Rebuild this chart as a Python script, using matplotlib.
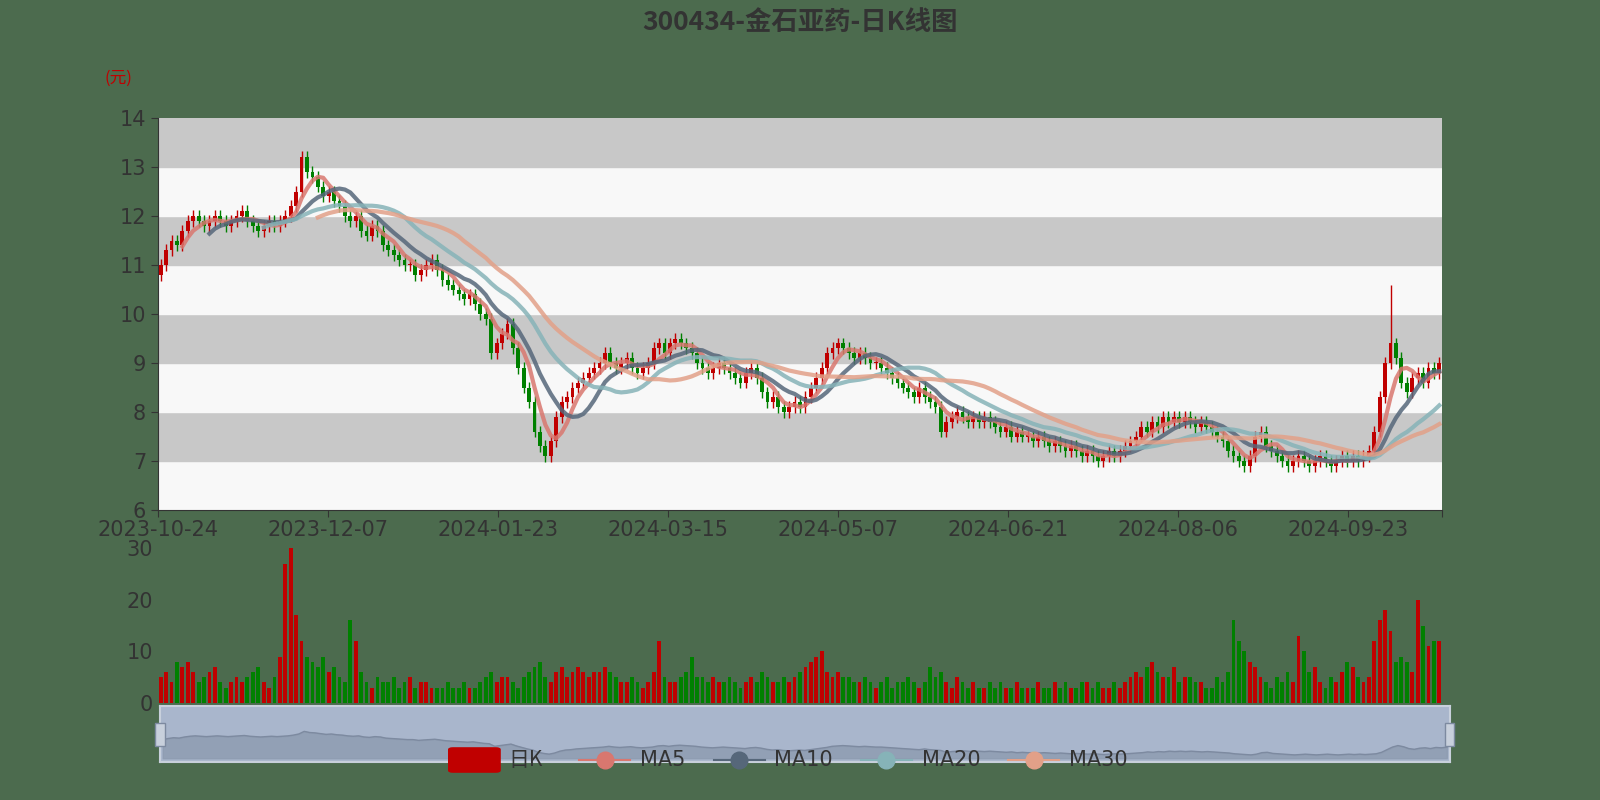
import numpy as np
import pandas as pd
import matplotlib
matplotlib.use("Agg")
import matplotlib.pyplot as plt
from matplotlib.patches import Rectangle, FancyBboxPatch
from matplotlib.lines import Line2D

plt.rcParams['font.family'] = ['Noto Sans CJK SC', 'DejaVu Sans']
NUMFONT = ['DejaVu Sans']

title = "300434-金石亚药-日K线图"
tick_labels = ["2023-10-24", "2023-12-07", "2024-01-23", "2024-03-15",
               "2024-05-07", "2024-06-21", "2024-08-06", "2024-09-23"]

closes = [
    11.0, 11.3, 11.5, 11.4, 11.7, 11.9,
    12.0, 11.9, 11.8, 11.9, 12.0, 11.9, 11.8, 11.9, 12.0, 12.1, 11.9, 11.8, 11.7, 11.8, 11.9, 11.8, 11.9, 12.0, 12.2, 12.5, 13.2, 12.9,
    12.8, 12.6, 12.4, 12.5, 12.3,
    12.2, 12.0, 11.9, 12.0, 11.7, 11.6, 11.8, 11.7, 11.4, 11.3, 11.2, 11.1, 11.0, 11.0, 10.8, 10.9,
    11.0, 11.1, 10.9, 10.7, 10.6, 10.5, 10.4, 10.3, 10.4, 10.2, 10.0, 9.9, 9.2, 9.4, 9.6, 9.8,
    9.3, 8.9, 8.5, 8.2, 7.6, 7.3, 7.1, 7.4, 7.9, 8.2, 8.3, 8.5,
    8.6, 8.7, 8.8, 8.9, 9.0, 9.2, 9.0, 8.9, 9.0, 9.1, 8.9, 8.8, 8.9, 9.0, 9.3, 9.4, 9.2, 9.4, 9.5, 9.4,
    9.3, 9.2, 9.0, 8.9, 8.8, 8.9, 9.0, 8.9, 8.8, 8.7, 8.6, 8.8, 8.9, 8.7, 8.4, 8.2, 8.3, 8.1, 8.0, 8.1, 8.2, 8.1, 8.3, 8.5, 8.7, 8.9, 9.2, 9.3, 9.4, 9.3,
    9.2, 9.1, 9.2, 9.1, 9.0, 9.0, 8.9, 8.8, 8.7, 8.6, 8.5, 8.4, 8.3, 8.5, 8.3, 8.2, 8.1, 7.6, 7.8, 7.9, 8.0, 7.9, 7.8, 7.9, 7.8, 7.9, 7.8, 7.7, 7.6, 7.7, 7.5, 7.6, 7.5,
    7.5, 7.4, 7.5, 7.4, 7.3, 7.4, 7.3, 7.2, 7.3, 7.2, 7.1, 7.2, 7.1, 7.0, 7.1, 7.2, 7.1, 7.2, 7.3, 7.4, 7.5, 7.7, 7.6, 7.8, 7.7, 7.9, 7.8, 7.9, 7.8, 7.9, 7.8, 7.7,
    7.8, 7.7, 7.6, 7.5, 7.4, 7.2, 7.1, 7.0, 6.9, 7.1, 7.5, 7.6, 7.3, 7.2, 7.1, 7.0, 6.9, 7.0, 7.1, 7.0, 6.9, 7.0, 7.1, 7.0, 6.9, 7.0, 7.1, 7.0, 7.1, 7.0, 7.1, 7.2,
    7.6, 8.3, 9.0, 9.4, 9.1, 8.6, 8.4, 8.7, 8.8, 8.6, 8.9, 8.8, 9.0,
]
volumes = [
    5, 6, 4, 8, 7, 8,
    6, 4, 5, 6, 7, 4, 3, 4, 5, 4, 5, 6, 7, 4, 3, 5, 9, 27, 30, 17, 12, 9,
    8, 7, 9, 6, 7,
    5, 4, 16, 12, 6, 4, 3, 5, 4, 4, 5, 3, 4, 5, 3, 4,
    4, 3, 3, 3, 4, 3, 3, 4, 3, 3, 4, 5, 6, 4, 5, 5,
    4, 3, 5, 6, 7, 8, 5, 4, 6, 7, 5, 6,
    7, 6, 5, 6, 6, 7, 6, 5, 4, 4, 5, 4, 3, 4, 6, 12, 5, 4, 4, 5,
    6, 9, 5, 5, 4, 5, 4, 4, 5, 4, 3, 4, 5, 4, 6, 5, 4, 4, 5, 4, 5, 6, 7, 8, 9, 10, 6, 5, 6, 5,
    5, 4, 4, 5, 4, 3, 4, 5, 3, 4, 4, 5, 4, 3, 4, 7, 5, 6, 4, 3, 5, 4, 3, 4, 3, 3, 4, 3, 4, 3, 3, 4, 3,
    3, 3, 4, 3, 3, 4, 3, 4, 3, 3, 4, 4, 3, 4, 3, 3, 4, 3, 4, 5, 6, 5, 7, 8, 6, 5, 5, 7, 4, 5, 5, 4,
    4, 3, 3, 5, 4, 6, 16, 12, 10, 8, 7, 5, 4, 3, 5, 4, 6, 4, 13, 10, 6, 7, 4, 3, 5, 4, 6, 8, 7, 5, 4, 5,
    12, 16, 18, 14, 8, 9, 8, 6, 20, 15, 11, 12, 12,
]

n = min(len(closes), len(volumes))
closes = np.array(closes[:n], dtype=float)
volumes = np.array(volumes[:n], dtype=float)
opens = np.concatenate([[closes[0] - 0.2], closes[:-1]])
highs = np.maximum(opens, closes) + 0.12
lows = np.minimum(opens, closes) - 0.12
highs[np.argmax(closes[-13:]) + n - 13] = 10.6
idx = np.arange(n)

UP, DOWN = "#c00000", "#008000"
BG = "#4c6b4e"
ma_colors = {5: "#d9776f", 10: "#56677a", 20: "#86b3b8", 30: "#e2a088"}

fig = plt.figure(figsize=(16, 8), dpi=100, facecolor=BG)
fig.text(0.5, 0.972, title, ha="center", va="center", fontsize=19, fontweight="bold", color="#333333")
fig.text(0.065, 0.902, "(元)", color="#c00000", fontsize=12, ha="left", va="center")

ax = fig.add_axes([0.09875, 0.3625, 0.8025, 0.49])
ax.set_facecolor(BG)
ax.set_xlim(-0.5, n - 0.5)
ax.set_ylim(6, 14)
for k in range(6, 14):
    ax.axhspan(k, k + 1, color="#c8c8c8" if k % 2 == 1 else "#f8f8f8", zorder=0)

colors = np.where(closes >= opens, UP, DOWN)
ax.vlines(idx, lows, highs, colors=colors, linewidth=1, zorder=2)
ax.bar(idx, np.maximum(np.abs(closes - opens), 0.03), bottom=np.minimum(opens, closes),
       width=0.7, color=colors, zorder=3)
s = pd.Series(closes)
for w, c in ma_colors.items():
    ax.plot(idx, s.rolling(w).mean(), color=c, linewidth=3, alpha=0.85, zorder=4)

step = n * 170 / 1284
ticks = [i * step - 0.5 for i in range(len(tick_labels))]
ax.set_xticks(ticks + [n - 0.5])
ax.set_xticklabels(tick_labels + [""], fontsize=15, color="#333333", family=NUMFONT)
ax.set_yticks(range(6, 15))
ax.set_yticklabels([str(v) for v in range(6, 15)], family=NUMFONT)
ax.tick_params(axis="y", labelsize=15, colors="#333333", length=5)
ax.tick_params(axis="x", length=5, colors="#333333", pad=2)
for sp in ["top", "right"]:
    ax.spines[sp].set_visible(False)
ax.spines["left"].set_color("#333333")
ax.spines["bottom"].set_color("#333333")

vax = fig.add_axes([0.09875, 0.12125, 0.8025, 0.19375])
vax.set_facecolor(BG)
vax.bar(idx, volumes, width=0.7, color=colors)
vax.set_xlim(-0.5, n - 0.5)
vax.set_ylim(0, 30)
vax.set_yticks([0, 10, 20, 30])
vax.set_yticklabels(["0", "10", "20", "30"], family=NUMFONT)
vax.set_xticks([])
vax.tick_params(axis="y", labelsize=15, colors="#333333", length=0)
for sp in vax.spines.values():
    sp.set_visible(False)

# data zoom slider
zax = fig.add_axes([0.10, 0.0475, 0.806, 0.07])
zax.set_facecolor("#a9b6cc")
zax.fill_between(idx, closes, 6, color="#8d9bb0", alpha=0.8)
zax.plot(idx, closes, color="#7d8aa0", linewidth=1)
zax.set_xlim(-0.5, n - 0.5)
zax.set_ylim(5, 20)
zax.set_xticks([])
zax.set_yticks([])
for sp in zax.spines.values():
    sp.set_color("#c8d0dc")
    sp.set_linewidth(1.5)
for xf in [0.10, 0.906]:
    fig.patches.append(Rectangle((xf - 0.003, 0.068), 0.006, 0.028, transform=fig.transFigure,
                                 facecolor="#c8d0dc", edgecolor="#7d8aa0", lw=1))

# legend
ly = 0.05
fig.patches.append(FancyBboxPatch((0.283, ly - 0.013), 0.027, 0.026, boxstyle="round,pad=0.003",
                                  transform=fig.transFigure, facecolor=UP, edgecolor="none"))
fig.text(0.318, ly, "日K", fontsize=15, color="#333333", va="center")
pos = [(0.362, 5, "MA5"), (0.446, 10, "MA10"), (0.538, 20, "MA20"), (0.630, 30, "MA30")]
for x0, w, lab in pos:
    fig.add_artist(Line2D([x0, x0 + 0.032], [ly, ly], transform=fig.transFigure,
                          color=ma_colors[w], lw=1.5))
    fig.add_artist(Line2D([x0 + 0.016], [ly], transform=fig.transFigure,
                          color=ma_colors[w], marker="o", markersize=12))
    fig.text(x0 + 0.038, ly, lab, fontsize=15, color="#333333", va="center", family=NUMFONT)

fig.savefig("out.png", dpi=100, facecolor=BG)
